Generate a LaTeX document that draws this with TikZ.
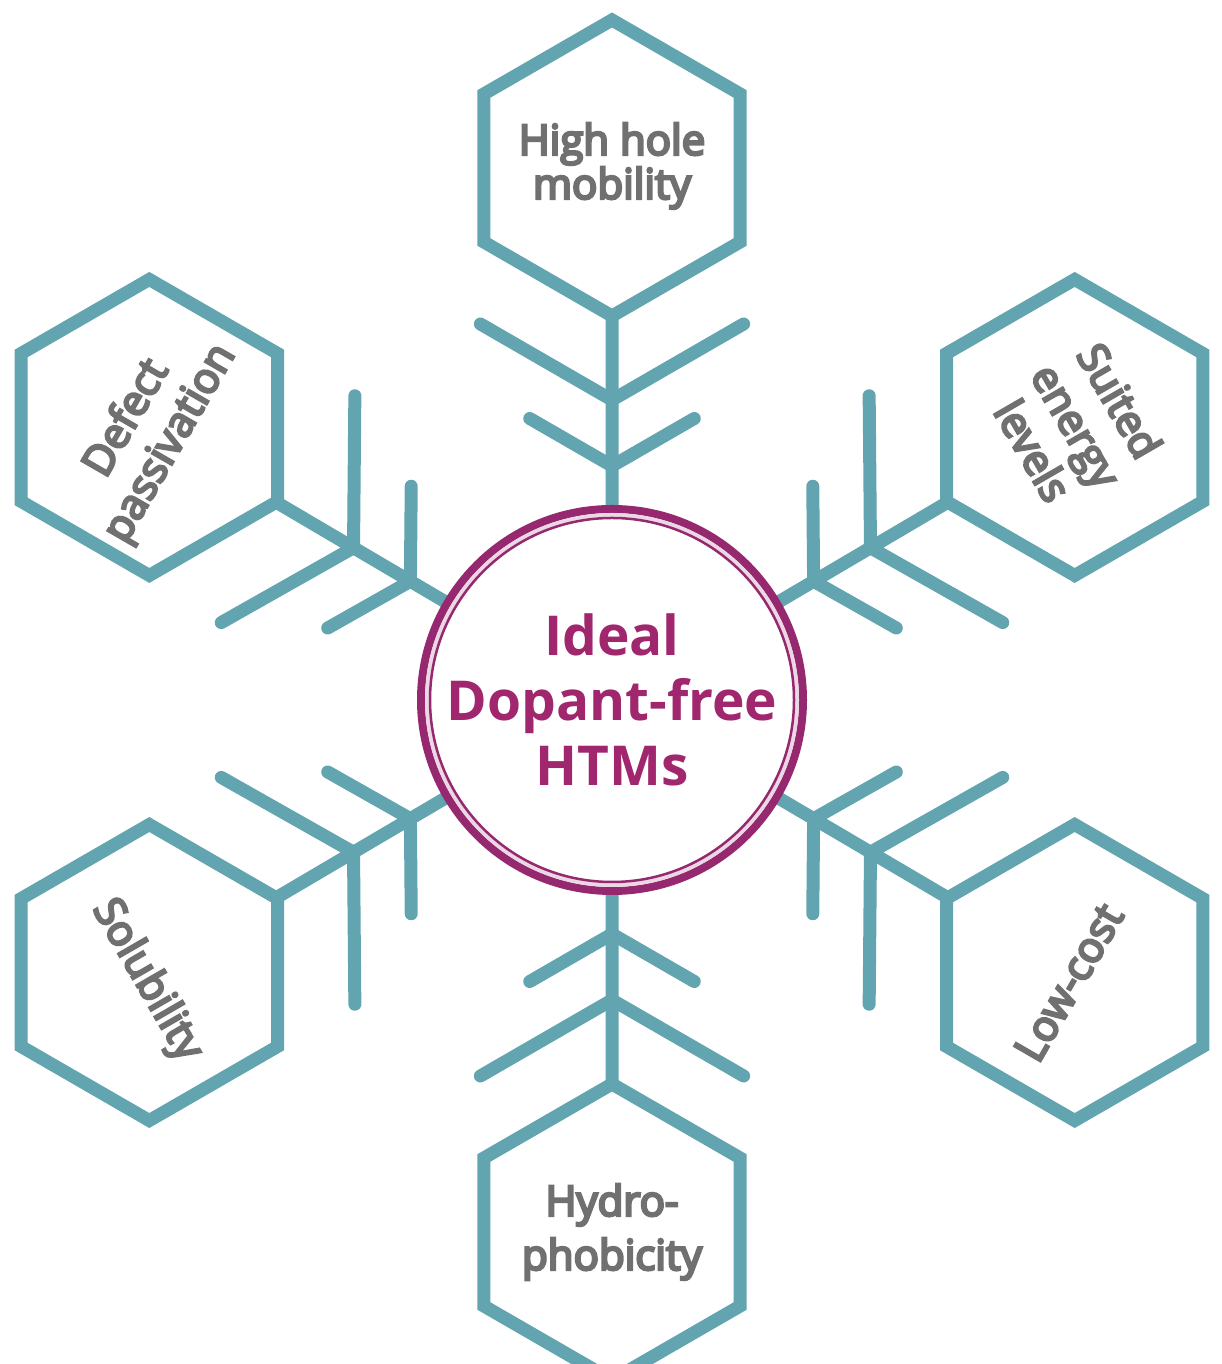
\documentclass[tikz,border=0pt]{standalone}
\usepackage{fontspec}
\setmainfont{Open Sans}
\newfontfamily\lblfont{Open Sans}[FakeBold=6]
\usetikzlibrary{shapes.geometric,calc}
\definecolor{armteal}{RGB}{98,164,176}
\definecolor{ringpurple}{RGB}{150,40,112}
\definecolor{hubtext}{RGB}{160,38,110}
\definecolor{labelgray}{RGB}{112,112,112}
\tikzset{
  hexa/.style={regular polygon, regular polygon sides=6, rotate=30,
    minimum size=296pt, inner sep=0pt, outer sep=0pt,
    draw=armteal, line width=13pt, line join=miter},
  arm/.style={draw=armteal, line width=13pt},
  twig/.style={draw=armteal, line width=13pt, line cap=round, line join=round},
  lbl/.style={text=labelgray, align=center, inner sep=0pt,
    font=\lblfont\fontsize{42}{50}\selectfont},
  hub/.style={circle, minimum size=382pt, inner sep=0pt, outer sep=0pt,
    fill=white, draw=ringpurple, line width=8pt, text=hubtext, align=center,
    font=\fontsize{55}{65}\selectfont\bfseries},
}
\begin{document}
\begin{tikzpicture}[x=1pt,y=1pt]
\useasboundingbox (0,0) rectangle (1222,1364);
\coordinate (ctr) at (612,664);

% the six hexagons around the hub
\foreach \a/\d/\n in {90/532/t, 30.5/537/ur, -30.5/537/lr, -90/532/b, 210.5/537/ll, 149.5/537/ul}{
  \node[hexa] (\n-hex) at ($(ctr)+(\a:\d)$) {};
}

% arms: a stem from the hub to each hexagon with two pairs of twigs
\foreach \a/\n in {90/t, 30.5/ur, -30.5/lr, -90/b, 210.5/ll, 149.5/ul}{
  \coordinate (\n-o) at ($(ctr)+(\a:300)$);
  \coordinate (\n-i) at ($(ctr)+(\a:234)$);
  \coordinate (\n-o1) at ($(\n-o)+(\a+60:152)$);
  \coordinate (\n-o2) at ($(\n-o)+(\a-60:152)$);
  \coordinate (\n-i1) at ($(\n-i)+(\a+60:95)$);
  \coordinate (\n-i2) at ($(\n-i)+(\a-60:95)$);
  \draw[arm] (ctr) -- (\n-hex);
  \draw[twig] (\n-o1) -- (\n-o) -- (\n-o2);
  \draw[twig] (\n-i1) -- (\n-i) -- (\n-i2);
}

% central hub with its double ring
\node[hub] (hub) at (ctr) {Ideal\\Dopant-free\\HTMs};
\draw[ringpurple!18, line width=4pt] (ctr) circle[radius=185];
\draw[ringpurple, line width=2.5pt] (ctr) circle[radius=182];

% labels inside the hexagons
\node[lbl, font=\lblfont\fontsize{42}{44}\selectfont] (t-txt) at ($(t-hex)+(0,2)$) {High hole\\mobility};
\node[lbl, rotate=-60] (ur-txt) at ($(ur-hex)+(2,2)$) {Suited\\energy\\levels};
\node[lbl, rotate=60] (lr-txt) at ($(lr-hex)+(-6,-10)$) {Low-cost};
\node[lbl, font=\lblfont\fontsize{42}{54}\selectfont] (b-txt) at (b-hex) {Hydro-\\phobicity};
\node[lbl, rotate=-60] (ll-txt) at ($(ll-hex)+(-3,-8)$) {Solubility};
\node[lbl, rotate=60] (ul-txt) at ($(ul-hex)+(0,-4)$) {Defect\\passivation};
\end{tikzpicture}
\end{document}
